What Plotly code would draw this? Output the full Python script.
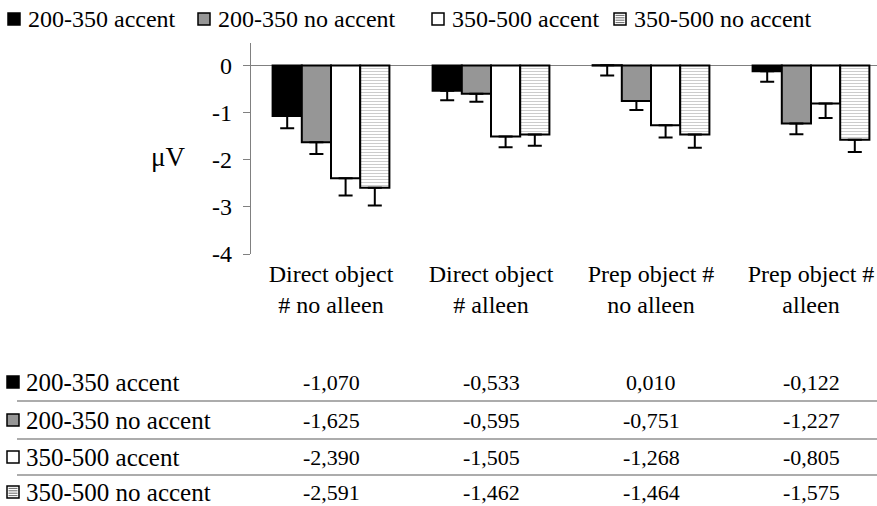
import plotly.graph_objects as go

categories = ["Direct object<br># no alleen", "Direct object<br># alleen",
              "Prep object #<br>no alleen", "Prep object #<br>alleen"]
series_names = ["200-350 accent", "200-350 no accent", "350-500 accent", "350-500 no accent"]
s1 = [-1.070, -0.533, 0.010, -0.122]
s2 = [-1.625, -0.595, -0.751, -1.227]
s3 = [-2.390, -1.505, -1.268, -0.805]
s4 = [-2.591, -1.462, -1.464, -1.575]
err1 = [0.26, 0.20, 0.22, 0.22]
err2 = [0.25, 0.17, 0.19, 0.23]
err3 = [0.37, 0.23, 0.26, 0.31]
err4 = [0.38, 0.24, 0.28, 0.26]
table_labels = ["-1,070", "-0,533", "0,010", "-0,122"], ["-1,625", "-0,595", "-0,751", "-1,227"], \
               ["-2,390", "-1,505", "-1,268", "-0,805"], ["-2,591", "-1,462", "-1,464", "-1,575"]
y_ticks = [0, -1, -2, -3, -4]

W, H = 877, 506
L, R, T, B = 251, 877, 43, 254
FONT = "Liberation Serif"
FS_LABEL = 24
FS_ROW = 25
FS_VAL = 22


def px(x):
    return (x - L) / (R - L)


def py(y):
    return (B - y) / (B - T)


fig = go.Figure()
styles = [
    dict(color="#000000"),
    dict(color="#969696"),
    dict(color="#ffffff"),
    dict(color="#ffffff", pattern=dict(shape="-", fgcolor="#9a9a9a", bgcolor="#ffffff", size=3, solidity=0.35)),
]
for name, vals, errs, st in zip(series_names, [s1, s2, s3, s4], [err1, err2, err3, err4], styles):
    fig.add_trace(go.Bar(
        x=categories, y=vals, name=name,
        marker=dict(line=dict(color="#000000", width=2), **st),
        error_y=dict(type="data", symmetric=False, array=[0] * 4, arrayminus=errs,
                     color="#000000", thickness=2, width=7),
    ))

annotations = []
shapes = []

annotations.append(dict(text="μV", xref="paper", yref="paper", x=px(168), y=py(157),
                        showarrow=False, font=dict(family=FONT, size=27, color="#000"),
                        xanchor="center", yanchor="middle"))


def swatch(x0, yc, kind, size=12):
    y0, y1 = yc - size / 2, yc + size / 2
    x1 = x0 + size
    fill = {"black": "#000000", "gray": "#969696", "white": "#ffffff", "hatch": "#ffffff"}[kind]
    shapes.append(dict(type="rect", xref="paper", yref="paper", x0=px(x0), x1=px(x1),
                       y0=py(y0), y1=py(y1), fillcolor=fill,
                       line=dict(color="#000000", width=1.5), layer="above"))
    if kind == "hatch":
        for k in range(1, 5):
            yy = y0 + k * size / 5
            shapes.append(dict(type="line", xref="paper", yref="paper", x0=px(x0 + 1.5), x1=px(x1 - 1.5),
                               y0=py(yy), y1=py(yy), line=dict(color="#444444", width=0.8),
                               layer="above"))


kinds = ["black", "gray", "white", "hatch"]

leg_x = [8, 198, 432, 614]
for kx, k, name in zip(leg_x, kinds, series_names):
    swatch(kx, 19, k)
    annotations.append(dict(text=name, xref="paper", yref="paper", x=px(kx + 18), y=py(19),
                            showarrow=False, xanchor="left", yanchor="middle",
                            font=dict(family=FONT, size=FS_LABEL, color="#000")))

row_y = [382, 420, 457, 492]
for ry, k, name, vals in zip(row_y, kinds, series_names, table_labels):
    swatch(7, ry, k)
    annotations.append(dict(text=name, xref="paper", yref="paper", x=px(24), y=py(ry),
                            showarrow=False, xanchor="left", yanchor="middle",
                            font=dict(family=FONT, size=FS_ROW, color="#000")))
    for c, v in zip(categories, vals):
        annotations.append(dict(text=v, xref="x", yref="paper", x=c, y=py(ry),
                                showarrow=False, xanchor="center", yanchor="middle",
                                font=dict(family=FONT, size=FS_VAL, color="#000")))
for sy in [401, 439, 475]:
    shapes.append(dict(type="line", xref="paper", yref="paper", x0=px(17), x1=1,
                       y0=py(sy), y1=py(sy), line=dict(color="#5a5a5a", width=1.2)))

fig.update_layout(
    width=W, height=H,
    margin=dict(l=L, r=W - R, t=T, b=H - B),
    paper_bgcolor="white", plot_bgcolor="white",
    barmode="group", bargap=0.27, bargroupgap=0,
    showlegend=False,
    font=dict(family=FONT, size=FS_LABEL, color="#000"),
    annotations=annotations, shapes=shapes,
    xaxis=dict(range=[-0.5, 3.4125], showline=False, showgrid=False, ticks="",
               ticklabelstandoff=3,
               tickfont=dict(family=FONT, size=FS_LABEL, color="#000")),
    yaxis=dict(range=[-4, 0.48], tickvals=y_ticks, ticktext=[str(v) for v in y_ticks],
               showline=True, linecolor="#808080", linewidth=1.2,
               ticks="outside", ticklen=7, tickcolor="#808080", tickwidth=1.2,
               ticklabelstandoff=6,
               showgrid=False, zeroline=True, zerolinecolor="#808080", zerolinewidth=1.2,
               tickfont=dict(family=FONT, size=FS_LABEL, color="#000")),
)

fig.write_html("out.html", config={"displayModeBar": False},
               post_script="document.body.style.margin='0';document.body.style.overflow='hidden';")
